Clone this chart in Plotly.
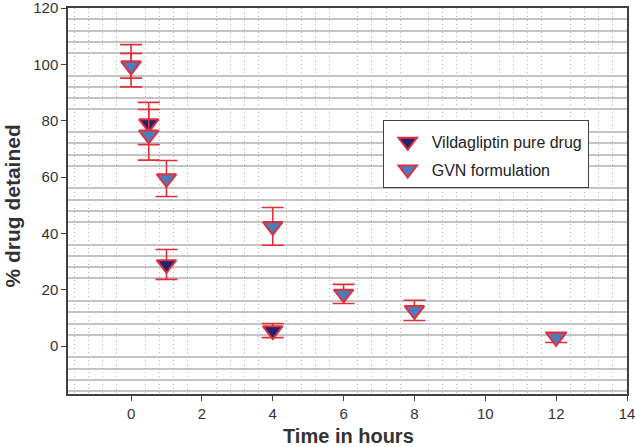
import plotly.graph_objects as go

# Data
time_pure = [0, 0.5, 1, 4]
pure_vals = [99.5, 79, 29, 5.5]
pure_err = [7.5, 7.5, 5.3, 2.5]

time_gvn = [0, 0.5, 1, 4, 6, 8, 12]
gvn_vals = [99.5, 75, 59.5, 42.5, 18.5, 12.7, 3.1]
gvn_err = [4.4, 9.0, 6.4, 6.7, 3.4, 3.6, 1.8]

x_tick_step = 2
y_tick_step = 20

RED = "#e0303c"
FONT = "Liberation Sans, Arial, sans-serif"

fig = go.Figure()
fig.add_trace(go.Scatter(
    x=time_pure, y=pure_vals, mode="markers", name="Vildagliptin pure drug",
    legendgroup="a",
    marker=dict(symbol="triangle-down", size=17, color="#22226e",
                line=dict(color=RED, width=2)),
    error_y=dict(type="data", array=pure_err, color=RED, thickness=1.6, width=11),
))
fig.add_trace(go.Scatter(
    x=time_gvn, y=gvn_vals, mode="markers", name="GVN formulation",
    legendgroup="b",
    marker=dict(symbol="triangle-down", size=17, color="#4a7cc2",
                line=dict(color=RED, width=2)),
    error_y=dict(type="data", array=gvn_err, color=RED, thickness=1.6, width=11),
))

axis_common = dict(
    showline=True, linecolor="#404040", linewidth=1.5, mirror=True,
    ticks="outside", ticklen=5, tickcolor="#404040", tickwidth=1.2,
    zeroline=False, showgrid=False, automargin=False,
    ticklabeloverflow="allow", tickmode="linear", tick0=0,
    tickfont=dict(family=FONT, size=15, color="#333333"),
)

fig.update_layout(
    width=635, height=447,
    margin=dict(l=68, r=8, t=8, b=53),
    paper_bgcolor="white", plot_bgcolor="white",
    font=dict(family=FONT, color="#333333"),
    xaxis=dict(
        range=[-1.78, 14], dtick=x_tick_step,
        minor=dict(tickmode="linear", dtick=0.4, tick0=0, showgrid=True, gridcolor="#b4b4b4",
                   griddash="1px,3px", gridwidth=1, ticks=""),
        **axis_common,
    ),
    yaxis=dict(
        range=[-17, 120], dtick=y_tick_step,
        minor=dict(tickmode="linear", dtick=4, tick0=0, showgrid=True, gridcolor="#c4c4c4",
                   gridwidth=1.5, ticks=""),
        **axis_common,
    ),
    legend=dict(
        x=0.563, y=0.71, xanchor="left", yanchor="top",
        bgcolor="white", bordercolor="#404040", borderwidth=1,
        font=dict(family=FONT, size=16, color="#222222"),
        tracegroupgap=4, itemwidth=38,
        title=dict(text=" ", font=dict(size=3)),
    ),
    showlegend=True,
    annotations=[
        dict(text="<b>% drug detained</b>", textangle=-90,
             xref="paper", yref="paper", x=-0.101, y=0.487,
             xanchor="center", yanchor="middle", showarrow=False,
             font=dict(family=FONT, size=21, color="#333333")),
        dict(text="<b>Time in hours</b>",
             xref="paper", yref="paper", x=0.502, y=-0.110,
             xanchor="center", yanchor="middle", showarrow=False,
             font=dict(family=FONT, size=20, color="#333333")),
    ],
)

fig.write_html("out.html", config={"displayModeBar": False},
               post_script="document.body.style.margin='0';document.body.style.overflow='hidden';")
